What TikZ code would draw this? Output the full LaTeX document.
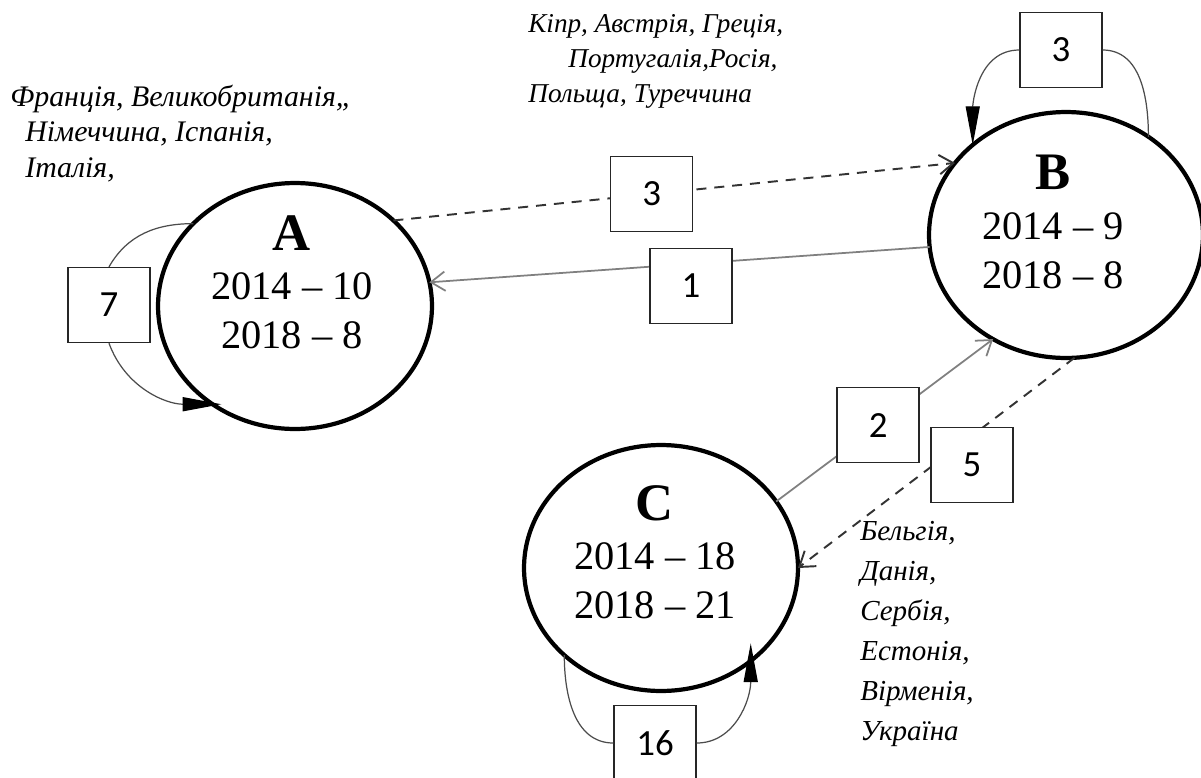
\documentclass[tikz,border=0pt]{standalone}
\usepackage{fontspec}
\setmainfont{Liberation Serif}
\newfontfamily\boxfont{Carlito}
\usetikzlibrary{arrows.meta,shapes.geometric}
\tikzset{%
  cluster/.style      = {ellipse, draw, line width=2.4pt,%
                         minimum width=5.48cm, minimum height=4.92cm,%
                         inner sep=0pt, outer sep=0pt},%
  clusterlabel/.style = {align=center, inner sep=0pt, anchor=north,%
                         font=\fontsize{23}{28}\selectfont},%
  countbox/.style     = {rectangle, draw=black!85, solid, line width=0.8pt, fill=white,%
                         minimum width=1.64cm, minimum height=1.5cm,%
                         font=\boxfont\fontsize{21}{24}\selectfont},%
  countries/.style    = {align=left, inner sep=0pt, anchor=north west,%
                         font=\itshape\fontsize{15.5}{20}\selectfont},%
  loopline/.style     = {draw=black!70, line width=0.7pt},%
  looptip/.style      = {-{Triangle[length=22pt,width=8pt,color=black]}},%
  export/.style       = {draw=gray, line width=1pt,%
                         -{Straight Barb[length=8pt,width=11pt]}},%
  transit/.style      = {draw=black!80, line width=1.1pt,%
                         dash pattern=on 5.7pt off 4.5pt,%
                         -{Straight Barb[length=8pt,width=11pt]}}%
}
\begin{document}
\begin{tikzpicture}[x=0.02cm, y=-0.02cm]
  \useasboundingbox (0,0) rectangle (1201,778);
  % groups of countries
  \node[cluster] (A) at (295,306) {};
  \node[cluster] (B) at (1066,235) {};
  \node[cluster] (C) at (661,568) {};
  \node[clusterlabel] (tA) at (292,215) {{\bfseries\fontsize{30}{30}\selectfont A}\\2014 -- 10\\2018 -- 8};
  \node[clusterlabel] (tB) at (1053,155) {{\bfseries\fontsize{30}{30}\selectfont B}\\2014 -- 9\\2018 -- 8};
  \node[clusterlabel] (tC) at (655,485) {{\bfseries\fontsize{30}{30}\selectfont C}\\2014 -- 18\\2018 -- 21};
  % self loops
  \node[countbox] (l7) at (109,305) {7};
  \node[countbox] (l3) at (1061,50) {3};
  \node[countbox] (l16) at (655,743) {16};
  \draw[loopline] (A.141) to[out=180,in=60] (l7.north);
  \draw[loopline,looptip,shorten >=-5pt] (l7.south) to[out=-70,in=180] (A.-130);
  \draw[loopline] (B.50) to[out=90,in=0] (l3.east);
  \draw[loopline,looptip] (l3.west) to[out=180,in=90] (B.136);
  \draw[loopline] (C.-138) to[out=-90,in=180] (l16.west);
  \draw[loopline,looptip,shorten >=-10pt] (l16.east) to[out=0,in=-90] (C.-46);
  % moves between groups
  \draw[transit] (A.41) -- node[countbox, pos=0.46] (m3) {3} (B.147);
  \draw[export] (B.185) -- (A.10);
  \node[countbox] (m1) at (691,286) {1};
  \draw[export] (C.30) -- node[countbox, pos=0.47] (m2) {2} (B.-125);
  \draw[transit] (B.-86) -- (C.0);
  \node[countbox] (m5) at (972,465) {5};
  % country lists
  \node[countries, font=\itshape\fontsize{17}{20}\selectfont] (listA) at (10,85) {Франція, Великобританія,,\\\hspace*{0.3cm}Німеччина, Іспанія,\\\hspace*{0.3cm}Італія,};
  \node[countries] (listB) at (528,14) {Кіпр, Австрія, Греція,\\\hspace*{0.8cm}Португалія,Росія,\\Польща, Туреччина};
  \node[countries, font=\itshape\fontsize{16.5}{22.8}\selectfont] (listC) at (860,521) {Бельгія,\\Данія,\\Сербія,\\Естонія,\\Вірменія,\\Україна};
\end{tikzpicture}
\end{document}
